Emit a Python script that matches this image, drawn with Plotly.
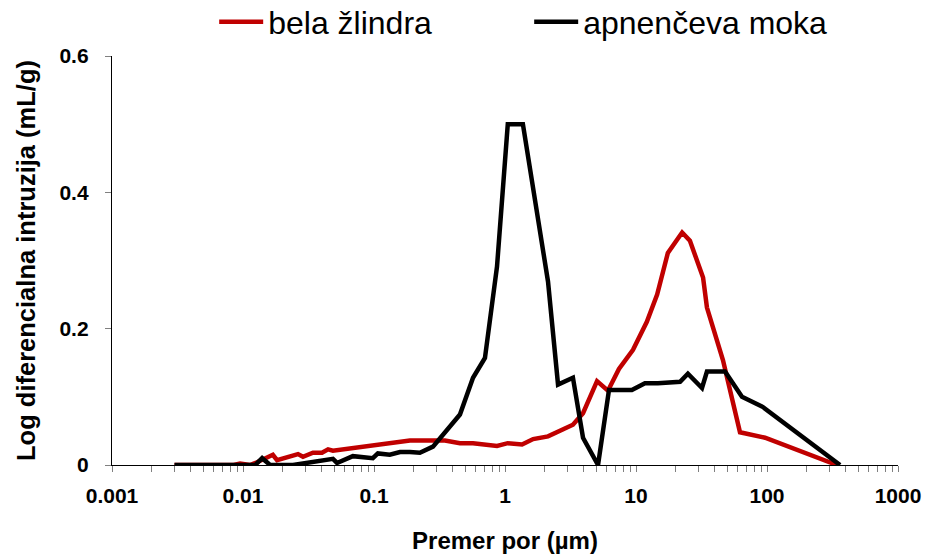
import plotly.graph_objects as go

# bela žlindra (red)
red_x = [0.003, 0.0085, 0.0095, 0.0113, 0.0128, 0.0169, 0.0182, 0.0217, 0.0263, 0.0287,
         0.0342, 0.0401, 0.0446, 0.0486, 0.069, 0.0885, 0.117, 0.188, 0.282, 0.348,
         0.453, 0.570, 0.869, 1.05, 1.35, 1.64, 2.13, 2.63, 3.30, 3.94,
         5.04, 6.11, 7.41, 9.49, 12.1, 14.5, 17.5, 22.5, 25.8, 32.5,
         34.8, 46.1, 62.2, 96.6, 342]
red_y = [0, 0, 0.002, 0, 0.004, 0.015, 0.007, 0.012, 0.016, 0.012,
         0.018, 0.018, 0.023, 0.021, 0.025, 0.028, 0.032, 0.036, 0.036, 0.036,
         0.032, 0.032, 0.028, 0.032, 0.030, 0.038, 0.042, 0.051, 0.059, 0.076,
         0.123, 0.109, 0.141, 0.169, 0.210, 0.250, 0.311, 0.341, 0.329, 0.275,
         0.231, 0.154, 0.048, 0.040, 0]

# apnenčeva moka (black)
blk_x = [0.003, 0.0124, 0.014, 0.0161, 0.0241, 0.0308, 0.0486, 0.0522, 0.069, 0.098,
         0.107, 0.132, 0.158, 0.188, 0.224, 0.282, 0.348, 0.453, 0.570, 0.703,
         0.869, 1.05, 1.37, 1.69, 2.13, 2.54, 3.30, 3.94, 5.13, 6.22,
         9.3, 11.7, 14.7, 21.7, 24.9, 31.9, 34.8, 47.8, 64.4, 93.2, 361]
blk_y = [0, 0, 0.010, 0, 0, 0.003, 0.009, 0.003, 0.013, 0.010,
         0.017, 0.015, 0.019, 0.019, 0.018, 0.027, 0.047, 0.074, 0.128, 0.157,
         0.291, 0.500, 0.500, 0.390, 0.269, 0.118, 0.128, 0.040, 0.0, 0.110,
         0.110, 0.120, 0.120, 0.122, 0.134, 0.113, 0.137, 0.137, 0.100, 0.085, 0]

x_tickvals = [0.001, 0.01, 0.1, 1, 10, 100, 1000]
x_ticktext = ["0.001", "0.01", "0.1", "1", "10", "100", "1000"]
y_tickvals = [0, 0.2, 0.4, 0.6]
y_ticktext = ["0", "0.2", "0.4", "0.6"]

FONT = "Liberation Sans, Arial, sans-serif"

fig = go.Figure()
fig.add_trace(go.Scatter(x=red_x, y=red_y, mode="lines", name="bela žlindra",
                         line=dict(color="#C00000", width=4.5)))
fig.add_trace(go.Scatter(x=blk_x, y=blk_y, mode="lines", name="apnenčeva moka",
                         line=dict(color="#000000", width=4.5)))

fig.update_layout(
    width=933, height=554,
    margin=dict(l=112, r=35, t=56, b=89, autoexpand=False),
    paper_bgcolor="white", plot_bgcolor="white",
    font=dict(family=FONT, color="black"),
    showlegend=True,
    legend=dict(orientation="h", x=0.13, xanchor="left", y=1.083, yanchor="middle",
                font=dict(size=32, family=FONT, color="black"),
                itemwidth=44,
                entrywidth=256, entrywidthmode="pixels",
                bgcolor="rgba(0,0,0,0)"),
    xaxis=dict(type="log", range=[-3, 3],
               tickmode="array", tickvals=x_tickvals, ticktext=x_ticktext,
               ticks="outside", ticklen=6, tickcolor="#808080", tickwidth=1,
               minor=dict(ticks="outside", ticklen=6, tickcolor="#808080", tickwidth=1,
                          dtick="D1", showgrid=False),
               showline=True, linecolor="black", linewidth=1.3,
               showgrid=False, zeroline=False,
               tickfont=dict(size=21, family=FONT, color="black", weight="bold"),
               ticklabelstandoff=6,
               title=dict(text="<b>Premer por (µm)</b>", standoff=26,
                          font=dict(size=24, family=FONT, color="black"))),
    yaxis=dict(range=[0, 0.6],
               tickmode="array", tickvals=y_tickvals, ticktext=y_ticktext,
               ticks="outside", ticklen=6, tickcolor="#808080", tickwidth=1,
               showline=True, linecolor="black", linewidth=1.3,
               showgrid=False, zeroline=False,
               tickfont=dict(size=21, family=FONT, color="black", weight="bold"),
               ticklabelstandoff=12,
               title=dict(text="<b>Log diferencialna intruzija (mL/g)</b>", standoff=16,
                          font=dict(size=25.5, family=FONT, color="black"))),
)

fig.write_html("out.html")
